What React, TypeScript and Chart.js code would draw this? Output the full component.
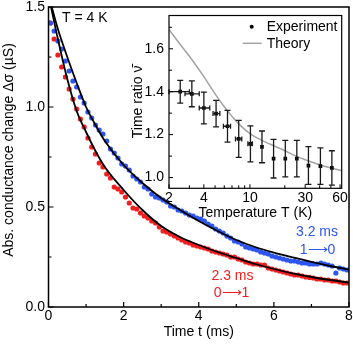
import React, { useEffect, useRef } from 'react';
import { Chart, registerables } from 'chart.js';
Chart.register(...registerables);

const FONT = "'Liberation Sans', Arial, sans-serif";
const BLUE = '#2d55f0';
const RED = '#f01e1e';

// ---- main panel data (time in ms, conductance change in µS) ----
const timeMs = [
  0.05, 0.15, 0.25, 0.35, 0.45, 0.55, 0.65, 0.75, 0.85, 0.95,
  1.05, 1.15, 1.25, 1.35, 1.45, 1.55, 1.65, 1.75, 1.85, 1.95,
  2.05, 2.15, 2.25, 2.35, 2.45, 2.55, 2.65, 2.75, 2.85, 2.95,
  3.05, 3.15, 3.25, 3.35, 3.45, 3.55, 3.65, 3.75, 3.85, 3.95,
  4.05, 4.15, 4.25, 4.35, 4.45, 4.55, 4.65, 4.75, 4.85, 4.95,
  5.05, 5.15, 5.25, 5.35, 5.45, 5.55, 5.65, 5.75, 5.85, 5.95,
  6.05, 6.15, 6.25, 6.35, 6.45, 6.55, 6.65, 6.75, 6.85, 6.95,
  7.05, 7.15, 7.25, 7.35, 7.45, 7.55, 7.65, 7.75, 7.85, 7.95,
];
const blueValues = [
  1.42, 1.38, 1.33, 1.29, 1.23, 1.18, 1.13, 1.10, 1.05, 1.02,
  0.975, 0.945, 0.91, 0.885, 0.865, 0.83, 0.79, 0.77, 0.745, 0.715,
  0.705, 0.685, 0.655, 0.64, 0.625, 0.60, 0.59, 0.565, 0.55, 0.545,
  0.535, 0.525, 0.505, 0.50, 0.485, 0.48, 0.47, 0.46, 0.455, 0.445,
  0.44, 0.43, 0.415, 0.405, 0.39, 0.38, 0.37, 0.355, 0.345, 0.33,
  0.325, 0.315, 0.30, 0.295, 0.29, 0.285, 0.275, 0.27, 0.265, 0.255,
  0.25, 0.245, 0.24, 0.235, 0.23, 0.23, 0.225, 0.22, 0.22, 0.215,
  0.215, 0.215, 0.22, 0.215, 0.21, 0.205, 0.17, 0.195, 0.19, 0.185,
];
const redValues = [
  1.42, 1.34, 1.26, 1.20, 1.15, 1.09, 1.04, 0.99, 0.94, 0.90,
  0.845, 0.80, 0.765, 0.72, 0.70, 0.665, 0.645, 0.60, 0.59, 0.575,
  0.55, 0.52, 0.495, 0.49, 0.47, 0.455, 0.445, 0.43, 0.42, 0.40,
  0.38, 0.375, 0.365, 0.355, 0.345, 0.335, 0.325, 0.32, 0.31, 0.305,
  0.30, 0.295, 0.29, 0.28, 0.275, 0.27, 0.265, 0.26, 0.25, 0.25,
  0.24, 0.235, 0.225, 0.22, 0.215, 0.215, 0.21, 0.21, 0.195, 0.19,
  0.185, 0.18, 0.175, 0.17, 0.165, 0.16, 0.16, 0.155, 0.15, 0.148,
  0.145, 0.14, 0.14, 0.135, 0.135, 0.13, 0.13, 0.125, 0.12, 0.12,
];
const fitTimes = [0, 0.25, 0.5, 0.75, 1.0, 1.25, 1.5, 2.0, 2.5, 3.0, 3.5, 4.0, 4.5, 5.0, 5.5, 6.0, 6.5, 7.0, 7.5, 8.0];
const blueFit = [1.56, 1.39, 1.25, 1.12, 1.0, 0.91, 0.83, 0.71, 0.62, 0.545, 0.485, 0.43, 0.38, 0.335, 0.30, 0.272, 0.248, 0.226, 0.205, 0.187];
const redFit = [1.56, 1.34, 1.14, 0.98, 0.875, 0.78, 0.70, 0.585, 0.485, 0.405, 0.35, 0.31, 0.275, 0.245, 0.215, 0.19, 0.168, 0.15, 0.135, 0.122];

const mainXMajor = [0, 2, 4, 6, 8];
const mainXMinor = [1, 3, 5, 7];
const mainYMajor = [0, 0.5, 1.0, 1.5];
const mainYMinor = [0.25, 0.75, 1.25];

// ---- inset data (temperature in K, time ratio) ----
const expTemp = [2.5, 3.15, 4.0, 5.1, 6.4, 8.0, 10.1, 12.7, 16, 20.2, 25.4, 32, 40.6, 51];
const expRatio = [1.40, 1.39, 1.324, 1.298, 1.239, 1.18, 1.157, 1.143, 1.088, 1.088, 1.088, 1.056, 1.053, 1.045];
const expRatioErr = [0.053, 0.06, 0.074, 0.062, 0.074, 0.086, 0.084, 0.074, 0.09, 0.085, 0.085, 0.088, 0.085, 0.08];
const expTempLow = [2.0, 2.75, 3.65, 4.8, 5.9, 7.5, 9.6, 12.7, 16, 20.2, 25.4, 32, 40.6, 51];
const expTempHigh = [3.0, 3.65, 4.5, 5.5, 6.8, 8.5, 10.5, 12.7, 16, 20.2, 25.4, 32, 40.6, 51];
const theoryTemp = [2, 2.5, 3, 3.5, 4, 5, 6, 7, 8, 10, 12, 15, 20, 25, 30, 40, 50, 62];
const theoryRatio = [1.69, 1.62, 1.565, 1.515, 1.47, 1.39, 1.33, 1.285, 1.25, 1.205, 1.18, 1.155, 1.125, 1.10, 1.083, 1.06, 1.045, 1.032];

const insetXMajor = [2, 4, 10, 30, 60];
const insetXMinor = [3, 5, 6, 7, 8, 9, 20, 40, 50];
const insetYMajor = [1.0, 1.2, 1.4, 1.6];
const insetYMinor = [1.1, 1.3, 1.5, 1.7];

function makeFrame(id: string, cfg: any) {
  return {
    id,
    afterDraw(chart: any) {
      const { ctx, chartArea: a, scales } = chart;
      ctx.save();
      ctx.strokeStyle = '#000';
      ctx.lineWidth = cfg.tickWidth;
      ctx.beginPath();
      const xt = (vals: number[], len: number) => {
        for (const v of vals) {
          const p = scales.x.getPixelForValue(v);
          ctx.moveTo(p, a.bottom);
          ctx.lineTo(p, a.bottom - len);
        }
      };
      const yt = (vals: number[], len: number) => {
        for (const v of vals) {
          const p = scales.y.getPixelForValue(v);
          ctx.moveTo(a.left, p);
          ctx.lineTo(a.left + len, p);
        }
      };
      xt(cfg.xMajor, cfg.majorLen);
      xt(cfg.xMinor, cfg.minorLen);
      yt(cfg.yMajor, cfg.majorLen);
      yt(cfg.yMinor, cfg.minorLen);
      ctx.stroke();
      ctx.lineWidth = cfg.lineWidth;
      ctx.strokeRect(a.left, a.top, a.right - a.left, a.bottom - a.top);
      ctx.restore();
    },
  };
}

const mainText = {
  id: 'mainText',
  afterDraw(chart: any) {
    const { ctx } = chart;
    ctx.save();
    ctx.font = `14px ${FONT}`;
    ctx.textBaseline = 'middle';
    ctx.fillStyle = '#000';
    ctx.textAlign = 'left';
    ctx.fillText('T = 4 K', 62, 18);
    ctx.textAlign = 'center';
    ctx.fillStyle = BLUE;
    ctx.fillText('3.2 ms', 317, 232);
    ctx.fillText('1\u27f60', 317.5, 250);
    ctx.fillStyle = RED;
    ctx.fillText('2.3 ms', 232.5, 276);
    ctx.fillText('0\u27f61', 231.5, 293);
    ctx.fillStyle = '#000';
    ctx.translate(9, 150);
    ctx.rotate(-Math.PI / 2);
    ctx.fillText('Abs. conductance change \u0394\u03c3 (\u00b5S)', 0, 0);
    ctx.restore();
  },
};

const insetExtras = {
  id: 'insetExtras',
  beforeDraw(chart: any) {
    const { ctx, chartArea: a } = chart;
    ctx.save();
    ctx.fillStyle = '#fff';
    ctx.fillRect(a.left, a.top, a.right - a.left, a.bottom - a.top);
    ctx.restore();
  },
  afterDatasetsDraw(chart: any) {
    const { ctx, scales } = chart;
    const xs = scales.x, ys = scales.y;
    ctx.save();
    ctx.strokeStyle = '#1a1a1a';
    ctx.lineWidth = 1.3;
    ctx.beginPath();
    for (let i = 0; i < expTemp.length; i++) {
      const x = xs.getPixelForValue(expTemp[i]);
      const y = ys.getPixelForValue(expRatio[i]);
      const y1 = ys.getPixelForValue(expRatio[i] - expRatioErr[i]);
      const y2 = ys.getPixelForValue(expRatio[i] + expRatioErr[i]);
      ctx.moveTo(x, y1); ctx.lineTo(x, y2);
      ctx.moveTo(x - 3, y1); ctx.lineTo(x + 3, y1);
      ctx.moveTo(x - 3, y2); ctx.lineTo(x + 3, y2);
      if (expTempHigh[i] > expTempLow[i]) {
        const x1 = xs.getPixelForValue(expTempLow[i]);
        const x2 = xs.getPixelForValue(expTempHigh[i]);
        ctx.moveTo(x1, y); ctx.lineTo(x2, y);
        ctx.moveTo(x1, y - 2.5); ctx.lineTo(x1, y + 2.5);
        ctx.moveTo(x2, y - 2.5); ctx.lineTo(x2, y + 2.5);
      }
    }
    ctx.stroke();
    ctx.restore();
  },
  afterDraw(chart: any) {
    const { ctx } = chart;
    ctx.save();
    ctx.fillStyle = '#000';
    ctx.beginPath();
    ctx.arc(131.7, 26.7, 2, 0, Math.PI * 2);
    ctx.fill();
    ctx.strokeStyle = '#a3a3a3';
    ctx.lineWidth = 1.5;
    ctx.beginPath();
    ctx.moveTo(122.7, 43.3);
    ctx.lineTo(141.7, 43.3);
    ctx.stroke();
    ctx.font = `14px ${FONT}`;
    ctx.textBaseline = 'middle';
    ctx.textAlign = 'left';
    ctx.fillText('Experiment', 146.7, 27);
    ctx.fillText('Theory', 146.7, 44);
    ctx.restore();
  },
};

export default function App() {
  const mainRef = useRef<HTMLCanvasElement>(null);
  const insetRef = useRef<HTMLCanvasElement>(null);

  useEffect(() => {
    document.body.style.margin = '0';
    Chart.defaults.font.family = FONT;
    Chart.defaults.font.size = 14;
    Chart.defaults.color = '#000';

    const main = new Chart(mainRef.current as HTMLCanvasElement, {
      type: 'scatter',
      data: {
        datasets: [
          {
            type: 'line', label: 'fit 1→0',
            data: fitTimes.map((t, i) => ({ x: t, y: blueFit[i] })),
            borderColor: '#000', borderWidth: 1.8, pointRadius: 0,
            cubicInterpolationMode: 'monotone', fill: false,
          } as any,
          {
            type: 'line', label: 'fit 0→1',
            data: fitTimes.map((t, i) => ({ x: t, y: redFit[i] })),
            borderColor: '#000', borderWidth: 1.8, pointRadius: 0,
            cubicInterpolationMode: 'monotone', fill: false,
          } as any,
          {
            label: '1→0',
            data: timeMs.map((t, i) => ({ x: t, y: blueValues[i] })),
            backgroundColor: BLUE, borderWidth: 0, pointRadius: 2.6,
          },
          {
            label: '0→1',
            data: timeMs.map((t, i) => ({ x: t, y: redValues[i] })),
            backgroundColor: RED, borderWidth: 0, pointRadius: 2.6,
          },
        ],
      },
      options: {
        responsive: false,
        animation: false,
        layout: { padding: { top: 7, right: 4, left: 0, bottom: 0 } },
        plugins: { legend: { display: false }, tooltip: { enabled: false } },
        scales: {
          x: {
            type: 'linear', min: 0, max: 8,
            grid: { display: false, drawTicks: false },
            border: { display: false },
            ticks: { stepSize: 2, padding: 1, maxRotation: 0, color: '#000', font: { size: 14 } },
            title: { display: true, text: 'Time t (ms)', color: '#000', font: { size: 14 }, padding: { top: 0, bottom: 3 } },
            afterFit: (s: any) => { s.height = 37; s.paddingLeft = 0; s.paddingRight = 0; },
          },
          y: {
            type: 'linear', min: 0, max: 1.5,
            grid: { display: false, drawTicks: false },
            border: { display: false },
            ticks: { stepSize: 0.5, padding: 3.5, color: '#000', font: { size: 14 }, callback: (v: any) => Number(v).toFixed(1) },
            afterFit: (s: any) => { s.width = 48.5; s.paddingTop = 0; s.paddingBottom = 0; },
          },
        },
      },
      plugins: [
        makeFrame('mainFrame', { xMajor: mainXMajor, xMinor: mainXMinor, yMajor: mainYMajor, yMinor: mainYMinor, majorLen: 5, minorLen: 3, tickWidth: 1.2, lineWidth: 1.5 }),
        mainText,
      ],
    });

    const inset = new Chart(insetRef.current as HTMLCanvasElement, {
      type: 'scatter',
      data: {
        datasets: [
          {
            label: 'Experiment',
            data: expTemp.map((t, i) => ({ x: t, y: expRatio[i] })),
            pointStyle: 'rect', pointRadius: 2.6, backgroundColor: '#000', borderWidth: 0,
          },
          {
            type: 'line', label: 'Theory',
            data: theoryTemp.map((t, i) => ({ x: t, y: theoryRatio[i] })),
            borderColor: '#a3a3a3', borderWidth: 1.5, pointRadius: 0,
            cubicInterpolationMode: 'monotone', fill: false,
          } as any,
        ],
      },
      options: {
        responsive: false,
        animation: false,
        layout: { padding: { left: 10, top: 15.5, right: 11.3, bottom: 0 } },
        plugins: { legend: { display: false }, tooltip: { enabled: false } },
        scales: {
          x: {
            type: 'logarithmic', min: 2, max: 62,
            grid: { display: false, drawTicks: false },
            border: { display: false },
            afterBuildTicks: (s: any) => { s.ticks = insetXMajor.map((v) => ({ value: v })); },
            ticks: { padding: 1.5, maxRotation: 0, autoSkip: false, color: '#000', font: { size: 14 }, callback: (v: any) => String(v) },
            title: { display: true, text: 'Temperature T (K)', color: '#000', font: { size: 14 }, padding: { top: 0, bottom: 3.6 } },
            afterFit: (s: any) => { s.height = 36.7; s.paddingLeft = 0; s.paddingRight = 0; },
          },
          y: {
            type: 'linear', min: 0.95, max: 1.755,
            grid: { display: false, drawTicks: false },
            border: { display: false },
            afterBuildTicks: (s: any) => { s.ticks = insetYMajor.map((v) => ({ value: v })); },
            ticks: { padding: 5, color: '#000', font: { size: 14 }, callback: (v: any) => Number(v).toFixed(1) },
            title: { display: true, text: 'Time ratio \u03bd\u0304', color: '#000', font: { size: 14 }, padding: 0 },
            afterFit: (s: any) => { s.width = 39; s.paddingTop = 0; s.paddingBottom = 0; },
          },
        },
      },
      plugins: [
        insetExtras,
        makeFrame('insetFrame', { xMajor: insetXMajor, xMinor: insetXMinor, yMajor: insetYMajor, yMinor: insetYMinor, majorLen: 4, minorLen: 3, tickWidth: 1, lineWidth: 1.2 }),
      ],
    });

    return () => {
      main.destroy();
      inset.destroy();
    };
  }, []);

  return (
    <div style={{ position: 'relative', width: 353, height: 344 }}>
      <canvas ref={mainRef} width={353} height={344} style={{ position: 'absolute', left: 0, top: 0, width: 353, height: 344 }} />
      <canvas ref={insetRef} width={233} height={225} style={{ position: 'absolute', left: 120, top: 0, width: 233, height: 225 }} />
    </div>
  );
}
